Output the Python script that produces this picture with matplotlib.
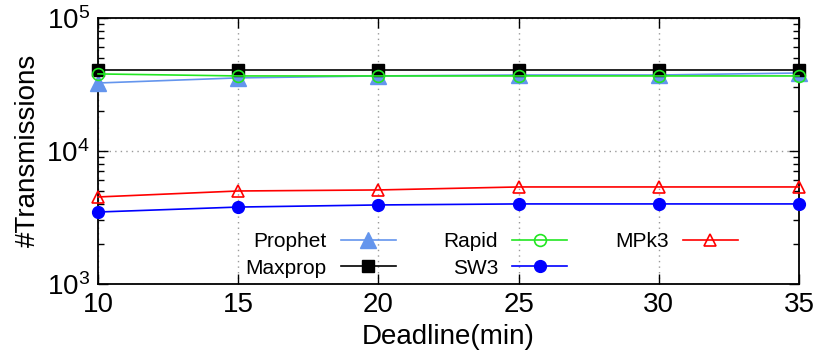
import math
import matplotlib
matplotlib.use("Agg")
import matplotlib.pyplot as plt
from matplotlib.ticker import FixedLocator, FuncFormatter, LogLocator, NullFormatter

plt.rcParams['font.family'] = ['Liberation Sans', 'DejaVu Sans']
plt.rcParams['mathtext.fontset'] = 'custom'
plt.rcParams['mathtext.rm'] = 'Liberation Sans'
plt.rcParams['mathtext.it'] = 'Liberation Sans:italic'

deadlines = [10, 15, 20, 25, 30, 35]
prophet = [32300, 35300, 36500, 37100, 37100, 38400]
maxprop = [40300, 40300, 40300, 40300, 40300, 40300]
rapid = [37800, 36500, 36500, 36500, 36500, 36500]
sw3 = [3460, 3770, 3910, 3980, 3980, 3980]
mpk3 = [4490, 4980, 5070, 5340, 5340, 5340]

fig = plt.figure(figsize=(8.19, 3.62), dpi=100)
ax = fig.add_axes([0.1197, 0.2163, 0.8559, 0.7347])

ax.set_yscale('log')
ax.set_xlim(10, 35)
ax.set_ylim(1e3, 1e5)

common = dict(lw=1.2, clip_on=False)
ax.plot(deadlines, prophet, color='#6495ED', marker='^', ms=11,
        mfc='#6495ED', mec='#6495ED', label='Prophet', zorder=3, **common)
ax.plot(deadlines, maxprop, color='black', marker='s', ms=9,
        mfc='black', mec='black', label='Maxprop', zorder=4, **common)
ax.plot(deadlines, rapid, color='#22e622', marker='o', ms=8.5,
        mfc='none', mec='#22e622', mew=1.2, label='Rapid', zorder=5, **common)
ax.plot(deadlines, sw3, color='#0000ff', marker='o', ms=8.5,
        mfc='#0000ff', mec='#0000ff', label='SW3', zorder=3, **common)
ax.plot(deadlines, mpk3, color='#ff0000', marker='^', ms=9,
        mfc='none', mec='#ff0000', mew=1.2, label='MPk3', zorder=3, **common)

ax.xaxis.set_major_locator(FixedLocator(deadlines))
ax.yaxis.set_major_locator(FixedLocator([1e3, 1e4, 1e5]))
ax.yaxis.set_minor_locator(LogLocator(base=10, subs=range(2, 10)))
ax.yaxis.set_minor_formatter(NullFormatter())
ax.yaxis.set_major_formatter(FuncFormatter(
    lambda v, p: r'$10^{%d}$' % round(math.log10(v))))

ax.tick_params(axis='both', which='both', direction='in', top=True, right=True,
               labelsize=20, width=1)
ax.tick_params(axis='both', which='major', length=7, pad=6)
ax.tick_params(axis='y', which='minor', length=4)

ax.grid(True, which='major', axis='both', color='#999999', ls=(0, (1, 3)), lw=1)
for s in ax.spines.values():
    s.set_linewidth(1.3)
    s.set_zorder(2)

ax.set_xlabel('Deadline(min)', fontsize=20, labelpad=4)
ax.set_ylabel('#Transmissions', fontsize=20, labelpad=4)

ax.legend(ncol=3, markerfirst=False, frameon=False, fontsize=15,
          loc='lower right', bbox_to_anchor=(0.919, 0.193),
          bbox_transform=fig.transFigure, handlelength=2.65,
          columnspacing=2.3, labelspacing=0.35, handletextpad=0.67,
          borderpad=0.2)

fig.savefig('out.png', dpi=100)
